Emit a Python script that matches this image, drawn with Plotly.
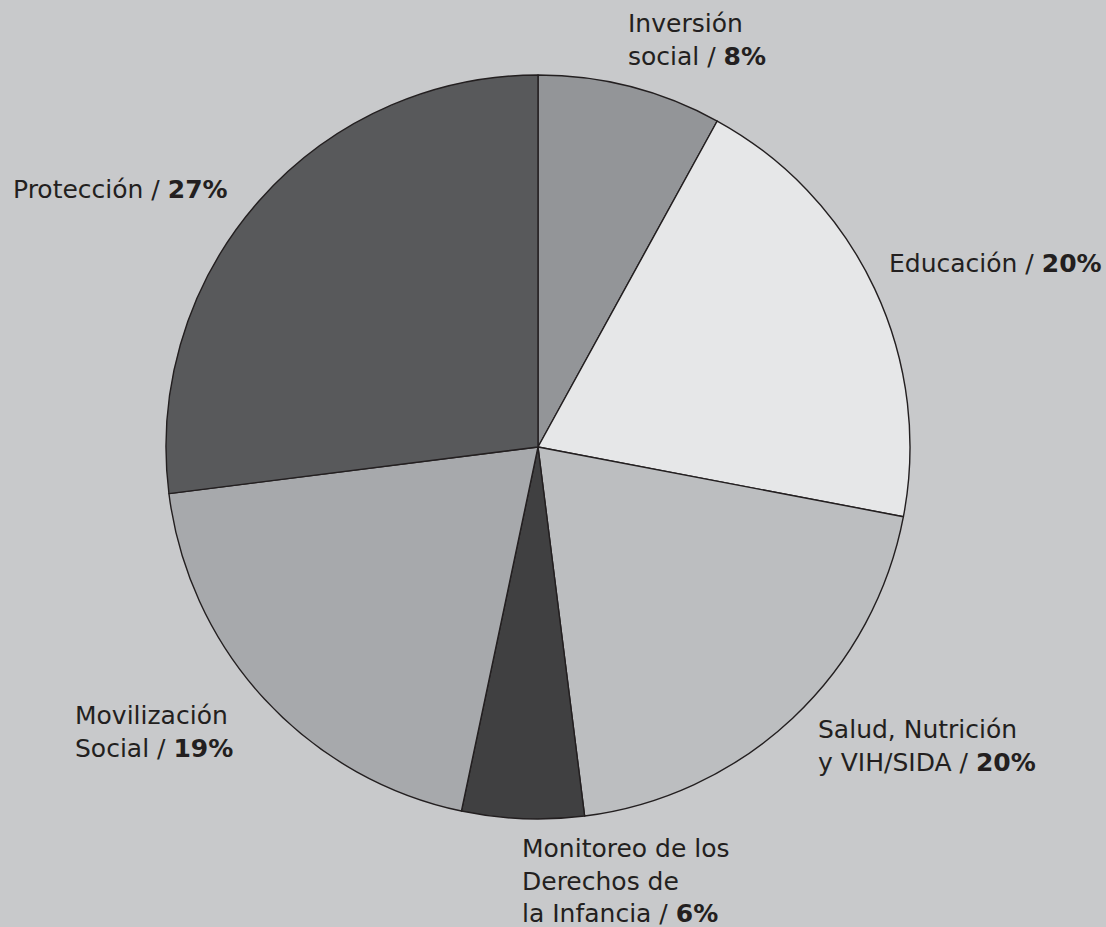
import plotly.graph_objects as go

W, H = 1106, 927

categories = ["Inversión social", "Educación", "Salud, Nutrición y VIH/SIDA",
              "Monitoreo de los Derechos de la Infancia", "Movilización Social", "Protección"]
values = [8, 20, 20, 5.3, 19.7, 27]
pct_labels = ["8%", "20%", "20%", "6%", "19%", "27%"]
label_lines = [
    ["Inversión", "social / "],
    ["Educación / "],
    ["Salud, Nutrición", "y VIH/SIDA / "],
    ["Monitoreo de los", "Derechos de", "la Infancia / "],
    ["Movilización", "Social / "],
    ["Protección / "],
]
colors = ["#939598", "#e6e7e8", "#bcbec0", "#404041", "#a7a9ac", "#58595b"]

# label anchor (left x, first-line center y) in pixels
label_pos = [(626, 24), (887, 264), (816, 730), (520, 849), (73, 716), (11, 190)]
LINE = 31.5
FS = 25

cx, cy, r = 538, 447, 372

fig = go.Figure(go.Pie(
    labels=categories, values=values, sort=False, direction="clockwise", rotation=0,
    marker=dict(colors=colors, line=dict(color="#231f20", width=1.4)),
    textinfo="none", hoverinfo="label+percent", showlegend=False,
    domain=dict(x=[(cx - r) / W, (cx + r) / W], y=[(H - cy - r) / H, (H - cy + r) / H]),
))

annotations = []
for lines, pct, (px, py) in zip(label_lines, pct_labels, label_pos):
    text = "<br>".join(lines[:-1] + [lines[-1] + "<b>" + pct + "</b>"])
    n = len(lines)
    center_y = py + (n - 1) * LINE / 2
    annotations.append(dict(
        x=px / W, y=1 - center_y / H, xref="paper", yref="paper",
        xanchor="left", yanchor="middle", align="left", showarrow=False,
        text=text, font=dict(family="DejaVu Sans", size=FS, color="#231f20"),
    ))

fig.update_layout(
    width=W, height=H, margin=dict(l=0, r=0, t=0, b=0),
    paper_bgcolor="#c8c9cb", plot_bgcolor="#c8c9cb",
    annotations=annotations,
)
fig.write_html(
    "out.html",
    config={"displayModeBar": False},
    post_script="document.body.style.margin='0';document.body.style.overflow='hidden';"
                "document.body.style.background='#c8c9cb';",
)
